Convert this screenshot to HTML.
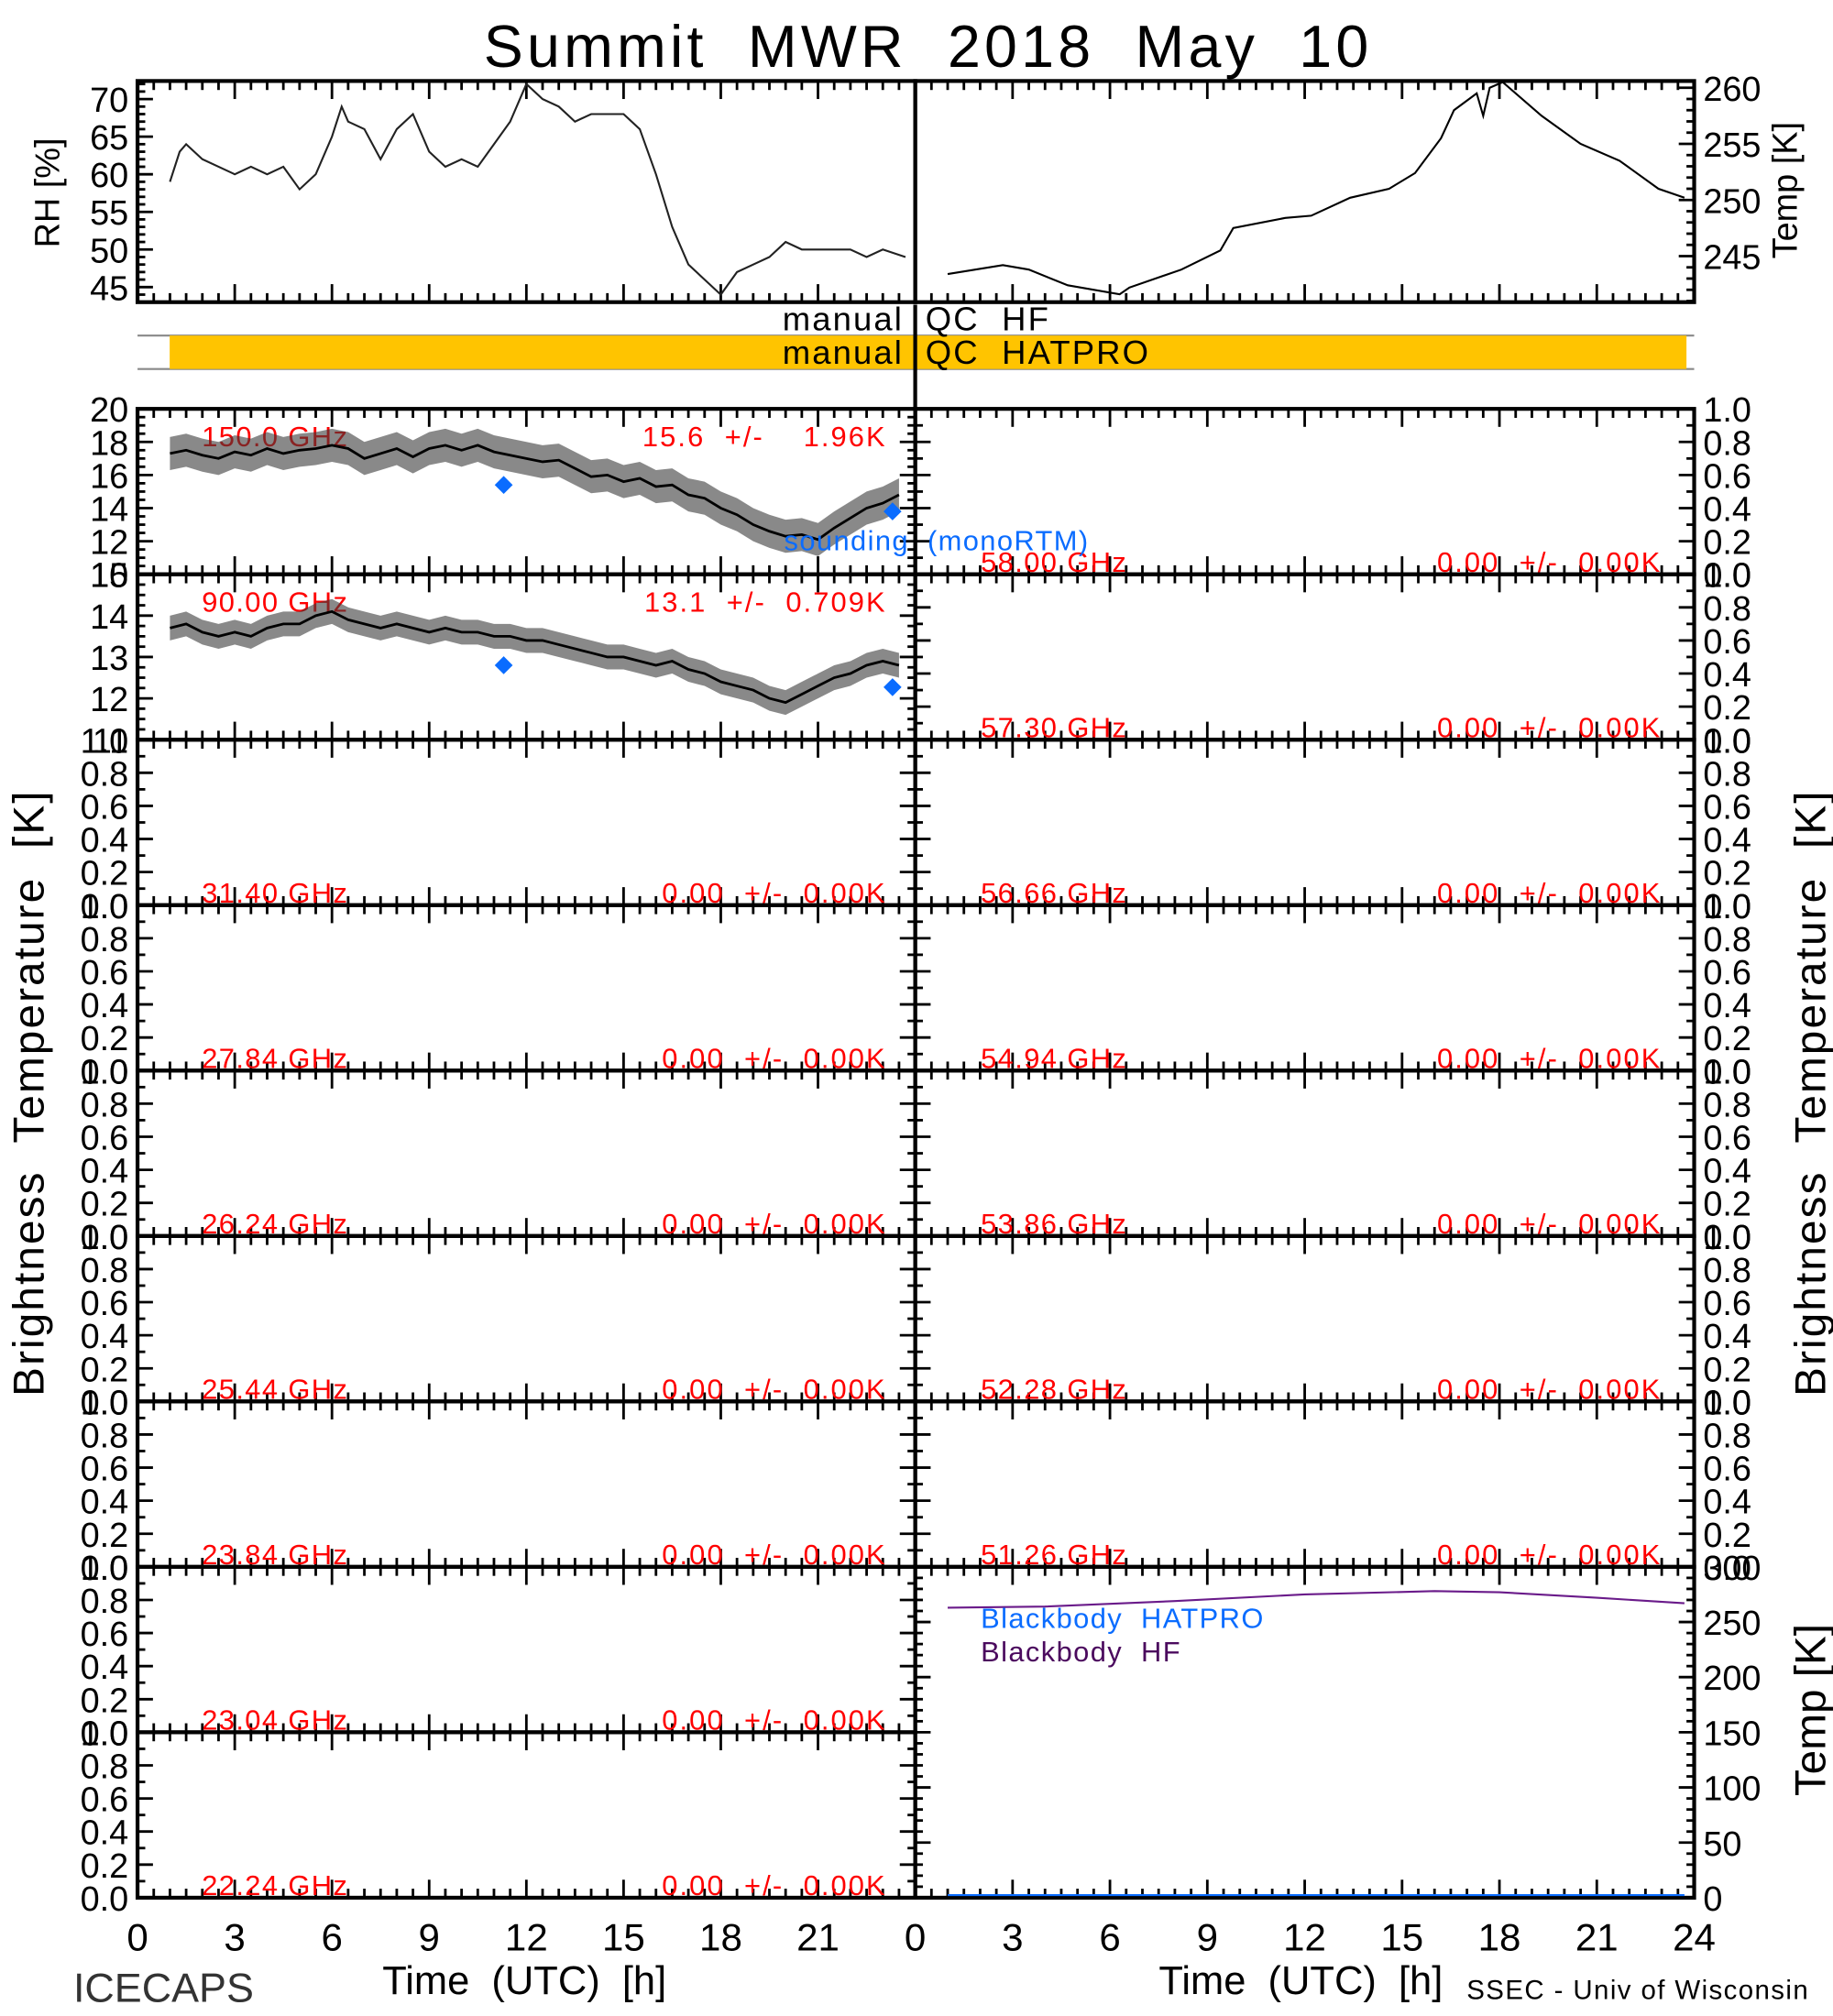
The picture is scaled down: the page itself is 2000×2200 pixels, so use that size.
<!DOCTYPE html>
<html><head><meta charset="utf-8"><style>
html,body{margin:0;padding:0;background:#fff;}
svg{display:block;font-family:"Liberation Sans",sans-serif;}
</style></head><body>
<svg id="chart" width="2000" height="2200" viewBox="0 0 1426 1568" preserveAspectRatio="none" xmlns="http://www.w3.org/2000/svg">
<rect x="0" y="0" width="1426" height="1568" fill="#fff"/>
</svg>
<script>
// ---- data ----
const rhTimes = [1,1.3,1.5,2,2.5,3,3.5,4,4.5,5,5.5,6,6.3,6.5,7,7.5,8,8.5,9,9.5,10,10.5,11,11.5,12,12.5,13,13.5,14,15,15.5,16,16.5,17,17.5,18,18.5,19,19.5,20,20.5,21,22,22.5,23,23.7];
const rhValues = [59,63,64,62,61,60,61,60,61,58,60,65,69,67,66,62,66,68,63,61,62,61,64,67,72,70,69,67,68,68,66,60,53,48,46,44,47,48,49,51,50,50,50,49,50,49];
const tempTimes = [1.0,2.7,3.5,4.7,6.3,6.6,8.2,9.4,9.8,11.4,12.2,13.4,14.6,15.4,16.2,16.6,17.3,17.5,17.7,18.1,19.3,20.5,21.7,22.9,23.7];
const tempValues = [243.4,244.2,243.8,242.4,241.6,242.2,243.8,245.5,247.5,248.4,248.6,250.2,251.0,252.4,255.5,258,259.5,257.5,260,260.5,257.5,255,253.5,251,250.2];
const bandTimes = [1,1.5,2,2.5,3,3.5,4,4.5,5,5.5,6,6.5,7,7.5,8,8.5,9,9.5,10,10.5,11,11.5,12,12.5,13,13.5,14,14.5,15,15.5,16,16.5,17,17.5,18,18.5,19,19.5,20,20.5,21,21.5,22,22.5,23,23.5];
const tb150 = [17.3,17.5,17.2,17.0,17.4,17.2,17.6,17.3,17.5,17.6,17.8,17.6,17.0,17.3,17.6,17.1,17.6,17.8,17.5,17.8,17.4,17.2,17.0,16.8,16.9,16.4,15.9,16.0,15.6,15.8,15.3,15.4,14.8,14.6,14.0,13.6,13.0,12.6,12.3,12.4,12.1,12.8,13.4,14.0,14.3,14.8];
const tb90 = [13.7,13.8,13.6,13.5,13.6,13.5,13.7,13.8,13.8,14.0,14.1,13.9,13.8,13.7,13.8,13.7,13.6,13.7,13.6,13.6,13.5,13.5,13.4,13.4,13.3,13.2,13.1,13.0,13.0,12.9,12.8,12.9,12.7,12.6,12.4,12.3,12.2,12.0,11.9,12.1,12.3,12.5,12.6,12.8,12.9,12.8];
const spread150 = 1.0;
const spread90 = 0.3;
const soundTimes = [11.3,23.3];
const sound150 = [15.4,13.8];
const sound90 = [12.8,12.27];
const bbTimes = [1,4,8,12,16,18,21,23.7];
const bbHF = [263,264,269,275,278,277,272,267];
const bbHatpro = [0,0,0,0,0,0,0,0];
const leftChannels = ["150.0 GHz","90.00 GHz","31.40 GHz","27.84 GHz","26.24 GHz","25.44 GHz","23.84 GHz","23.04 GHz","22.24 GHz"];
const rightChannels = ["58.00 GHz","57.30 GHz","56.66 GHz","54.94 GHz","53.86 GHz","52.28 GHz","51.26 GHz"];
const leftStats = ["15.6  +/-    1.96K","13.1  +/-  0.709K","0.00  +/-  0.00K","0.00  +/-  0.00K","0.00  +/-  0.00K","0.00  +/-  0.00K","0.00  +/-  0.00K","0.00  +/-  0.00K","0.00  +/-  0.00K"];
const rhTicks = [45,50,55,60,65,70];
const tempTicks = [245,250,255,260];
const xTickLabels = [0,3,6,9,12,15,18,21];
const xTickLabelsRight = [0,3,6,9,12,15,18,21,24];
const unitTicks = [0,0.2,0.4,0.6,0.8,1.0];
const tb150Ticks = [10,12,14,16,18,20];
const tb90Ticks = [11,12,13,14,15];
const bbTicks = [0,50,100,150,200,250,300];

// ---- helpers ----
const svg = document.getElementById('chart');
const NS = 'http://www.w3.org/2000/svg';
function mk(tag, attrs, parent){
  const e = document.createElementNS(NS, tag);
  for (const k in attrs) e.setAttribute(k, attrs[k]);
  (parent||svg).appendChild(e);
  return e;
}
function txt(s, x, y, size, anchor, color, parent){
  const t = mk('text', {x:x, y:y, 'font-size':size, 'text-anchor':anchor||'start', fill:color||'#000'}, parent);
  t.setAttribute('xml:space','preserve');
  t.style.whiteSpace = 'pre';
  t.textContent = s;
  return t;
}
const LX0 = 107, LX1 = 712, RX0 = 712, RX1 = 1318;
function xs(t, x0, x1){ return x0 + (t/24)*(x1-x0); }
function ys(v, vmin, vmax, y0, y1){ return y1 - (v - vmin)/(vmax - vmin)*(y1 - y0); }

function xTicks(x0, x1, y0, y1){
  for (let i = 0; i <= 48; i++){
    const x = xs(i*0.5, x0, x1);
    const len = (i % 6 === 0) ? 14 : 7;
    const a = mk('line', {x1:x, x2:x, y1:y0, y2:y0+len, stroke:'#000', 'stroke-width':2});
    
    
    const b = mk('line', {x1:x, x2:x, y1:y1, y2:y1-len, stroke:'#000', 'stroke-width':2});
    
    
  }
}
function yTicks(x0, x1, y0, y1, vmin, vmax, minorStep, majorEvery){
  const n = Math.round((vmax-vmin)/minorStep);
  for (let i = 0; i <= n; i++){
    const y = ys(vmin + i*minorStep, vmin, vmax, y0, y1);
    const len = (i % majorEvery === 0) ? 12 : 6;
    const a = mk('line', {x1:x0, x2:x0+len, y1:y, y2:y, stroke:'#000', 'stroke-width':2});
    
    
    const b = mk('line', {x1:x1, x2:x1-len, y1:y, y2:y, stroke:'#000', 'stroke-width':2});
    
    
  }
}
function box(x0, y0, x1, y1, name){
  const r = mk('rect', {x:x0, y:y0, width:x1-x0, height:y1-y0, fill:'none', stroke:'#000', 'stroke-width':3});
  
  
}

// ---- title ----
const title = txt('Summit  MWR  2018  May  10', 722, 52, 46, 'middle');


title.setAttribute('letter-spacing','3');

// ---- top panels ----
const TY0 = 63, TY1 = 235;
box(LX0, TY0, LX1, TY1, 'rh-panel');
box(RX0, TY0, RX1, TY1, 'temp-panel');
xTicks(LX0, LX1, TY0, TY1);
xTicks(RX0, RX1, TY0, TY1);
const RHMIN = 43.0, RHMAX = 72.4, TMIN = 240.9, TMAX = 260.6;
for (let v = 44; v <= 72; v++){
  const y = ys(v, RHMIN, RHMAX, TY0, TY1);
  const len = (v % 5 === 0) ? 12 : 6;
  const a = mk('line', {x1:LX0, x2:LX0+len, y1:y, y2:y, stroke:'#000', 'stroke-width':2});
  
  
}
for (let v = 241; v <= 260; v++){
  const y = ys(v, TMIN, TMAX, TY0, TY1);
  const len = (v % 5 === 0) ? 12 : 6;
  const a = mk('line', {x1:RX1, x2:RX1-len, y1:y, y2:y, stroke:'#000', 'stroke-width':2});
  
  
}
rhTicks.forEach(v => {
  const t = txt(String(v), 100, ys(v, RHMIN, RHMAX, TY0, TY1)+10, 27, 'end');
  
  
});
tempTicks.forEach(v => {
  const t = txt(String(v), 1325, ys(v, TMIN, TMAX, TY0, TY1)+10, 27, 'start');
  
  
});
const rhLine = mk('polyline', {points: rhTimes.map((t,i)=> xs(t,LX0,LX1)+','+ys(rhValues[i],RHMIN,RHMAX,TY0,TY1)).join(' '), fill:'none', stroke:'#222', 'stroke-width':1.5});


const tLine = mk('polyline', {points: tempTimes.map((t,i)=> xs(t,RX0,RX1)+','+ys(tempValues[i],TMIN,TMAX,TY0,TY1)).join(' '), fill:'none', stroke:'#000', 'stroke-width':1.5});


const rhTitle = txt('RH [%]', 0, 0, 27, 'middle');
rhTitle.setAttribute('transform','translate(46,150) rotate(-90)');


const tTitle = txt('Temp [K]', 0, 0, 27, 'middle');
tTitle.setAttribute('transform','translate(1398,148) rotate(-90)');



// ---- QC strip ----
const g1 = mk('line', {x1:LX0, x2:RX1, y1:261, y2:261, stroke:'#888', 'stroke-width':1.5});


const g2 = mk('line', {x1:LX0, x2:RX1, y1:287, y2:287, stroke:'#888', 'stroke-width':1.5});


const qcBar = mk('rect', {x:132, y:261, width:1180, height:26, fill:'#FFC400'});


const vline = mk('line', {x1:712, x2:712, y1:237, y2:318, stroke:'#000', 'stroke-width':3});


[['manual',703,257,'end','qc-hf-flag'],['QC  HF',720,257,'start','qc-hf-label'],['manual',703,283,'end','qc-hatpro-flag'],['QC  HATPRO',720,283,'start','qc-hatpro-label']].forEach(a=>{
  const t = txt(a[0], a[1], a[2], 26, a[3]);
  
  
  t.setAttribute('letter-spacing','1.5');
});

// ---- brightness temperature panels ----
const PT = 318, PH = (1476-318)/9;
for (let i = 0; i < 9; i++){
  const y0 = PT + i*PH, y1 = y0 + PH;
  box(LX0, y0, LX1, y1, 'tb-panel-left-'+i);
  xTicks(LX0, LX1, y0, y1);
  let vmin=0, vmax=1, step=0.1, maj=2, labs=unitTicks, dec=1;
  if (i===0){ vmin=10; vmax=20; step=0.5; maj=4; labs=tb150Ticks; dec=0; }
  if (i===1){ vmin=11; vmax=15; step=0.25; maj=4; labs=tb90Ticks; dec=0; }
  yTicks(LX0, LX1, y0, y1, vmin, vmax, step, maj);
  labs.forEach(v=>{
    const t = txt(v.toFixed(dec), 100, ys(v,vmin,vmax,y0,y1)+10, 27, 'end');
    
    
  });
  const ly = (i<2) ? y0+29 : y1-2;
  const c = txt(leftChannels[i], 157, ly, 22, 'start', '#ff0000');
  
  
  c.setAttribute('letter-spacing','1');
  const s = txt(leftStats[i], 690, ly, 22, 'end', '#ff0000');
  
  
  s.setAttribute('letter-spacing','1.5');
}
for (let i = 0; i < 7; i++){
  const y0 = PT + i*PH, y1 = y0 + PH;
  box(RX0, y0, RX1, y1, 'tb-panel-right-'+i);
  xTicks(RX0, RX1, y0, y1);
  yTicks(RX0, RX1, y0, y1, 0, 1, 0.1, 2);
  unitTicks.forEach(v=>{
    const t = txt(v.toFixed(1), 1325, ys(v,0,1,y0,y1)+10, 27, 'start');
    
    
  });
  const c = txt(rightChannels[i], 763, y1-2, 22, 'start', '#ff0000');
  
  
  c.setAttribute('letter-spacing','1');
  const s = txt('0.00  +/-  0.00K', 1293, y1-2, 22, 'end', '#ff0000');
  
  
  s.setAttribute('letter-spacing','1.5');
}

// noisy bands
function band(vals, spread, vmin, vmax, y0, y1, name){
  const up = bandTimes.map((t,i)=> xs(t,LX0,LX1)+','+ys(vals[i]+spread,vmin,vmax,y0,y1));
  const dn = bandTimes.map((t,i)=> xs(t,LX0,LX1)+','+ys(vals[i]-spread,vmin,vmax,y0,y1)).reverse();
  const p = mk('polygon', {points: up.concat(dn).join(' '), fill:'#3a3a3a', 'fill-opacity':0.6});
  
  
  const m = mk('polyline', {points: bandTimes.map((t,i)=> xs(t,LX0,LX1)+','+ys(vals[i],vmin,vmax,y0,y1)).join(' '), fill:'none', stroke:'#000', 'stroke-width':2});
  
  
}
band(tb150, spread150, 10, 20, PT, PT+PH, 'tb150');
band(tb90, spread90, 11, 15, PT+PH, PT+2*PH, 'tb90');
function diamonds(vals, vmin, vmax, y0, y1){
  soundTimes.forEach((t,i)=>{
    const x = xs(t,LX0,LX1), y = ys(vals[i],vmin,vmax,y0,y1);
    const d = mk('polygon', {points: `${x},${y-7} ${x+7},${y} ${x},${y+7} ${x-7},${y}`, fill:'#0a6cff'});
    
    
  });
}
diamonds(sound150, 10, 20, PT, PT+PH);
diamonds(sound90, 11, 15, PT+PH, PT+2*PH);
const snd = txt('sounding  (monoRTM)', 610, 428, 22, 'start', '#0a6cff');


snd.setAttribute('letter-spacing','1');

// ---- blackbody panel ----
const BY0 = PT + 7*PH, BY1 = 1476;
box(RX0, BY0, RX1, BY1, 'blackbody-panel');
xTicks(RX0, RX1, BY0, BY1);
yTicks(RX0, RX1, BY0, BY1, 0, 300, 10, 5);
bbTicks.forEach(v=>{
  const t = txt(String(v), 1325, ys(v,0,300,BY0,BY1)+10, 27, 'start');
  
  
});
const hf = mk('polyline', {points: bbTimes.map((t,i)=> xs(t,RX0,RX1)+','+ys(bbHF[i],0,300,BY0,BY1)).join(' '), fill:'none', stroke:'#6a1b8a', 'stroke-width':1.5});


const hp = mk('polyline', {points: bbTimes.map((t,i)=> xs(t,RX0,RX1)+','+(ys(bbHatpro[i],0,300,BY0,BY1)-2)).join(' '), fill:'none', stroke:'#0a6cff', 'stroke-width':1.5});


const l1 = txt('Blackbody  HATPRO', 763, 1266, 22, 'start', '#0a6cff');


l1.setAttribute('letter-spacing','1');
const l2 = txt('Blackbody  HF', 763, 1292, 22, 'start', '#4b0a5e');


l2.setAttribute('letter-spacing','1');
const bbTitle = txt('Temp [K]', 0, 0, 34, 'middle');
bbTitle.setAttribute('transform','translate(1420,1330) rotate(-90)');



// ---- x labels & titles ----
xTickLabels.forEach(v=>{
  const t = txt(String(v), xs(v,LX0,LX1), 1517, 30, 'middle');
  
  
});
xTickLabelsRight.forEach(v=>{
  const t = txt(String(v), xs(v,RX0,RX1), 1517, 30, 'middle');
  
  
});
const xt1 = txt('Time  (UTC)  [h]', 408, 1551, 31, 'middle');


const xt2 = txt('Time  (UTC)  [h]', 1012, 1551, 31, 'middle');


const ice = txt('ICECAPS', 57, 1557, 32, 'start', '#333');


const ssec = txt('SSEC - Univ of Wisconsin', 1141, 1555, 21, 'start');


ssec.setAttribute('letter-spacing','1');
const btl = txt('Brightness  Temperature  [K]', 0, 0, 34, 'middle');
btl.setAttribute('transform','translate(34,850) rotate(-90)');


btl.setAttribute('letter-spacing','1.5');
const btr = txt('Brightness  Temperature  [K]', 0, 0, 34, 'middle');
btr.setAttribute('transform','translate(1420,850) rotate(-90)');


btr.setAttribute('letter-spacing','1.5');
</script>
</body></html>
